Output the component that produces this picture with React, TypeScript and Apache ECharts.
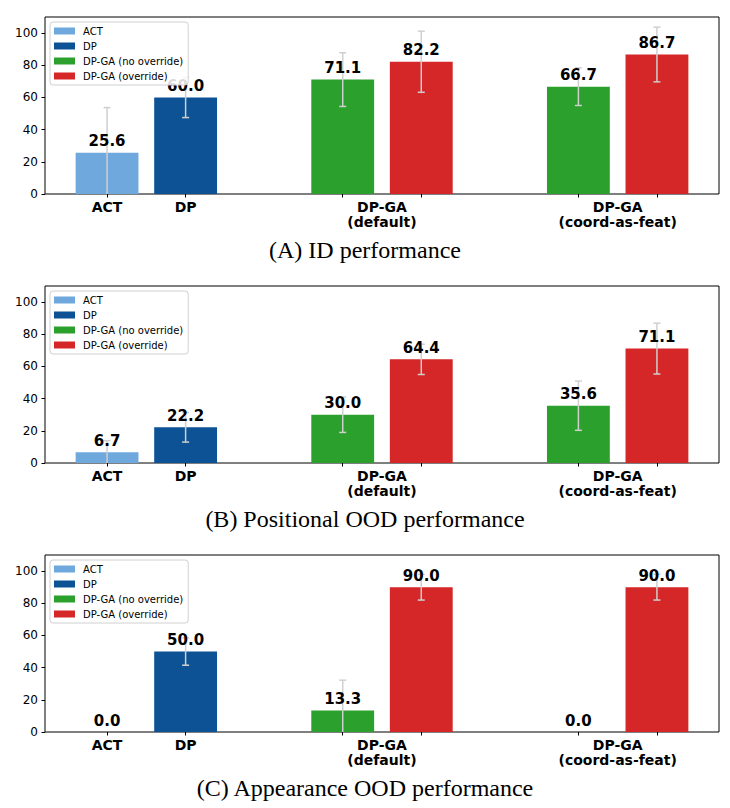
import React, { useEffect, useRef } from "react";
import * as echarts from "echarts";

// Panel captions (drawn under each plot)
const panelCaptions = [
  "(A) ID performance",
  "(B) Positional OOD performance",
  "(C) Appearance OOD performance",
];

// Method names and colours (legend order)
const methodNames = ["ACT", "DP", "DP-GA (no override)", "DP-GA (override)"];
const methodColors = ["#6fa8dc", "#0d5295", "#2ca02c", "#d62728"];

// Tick labels along the x axis
const groupLabels = ["ACT", "DP", "DP-GA\n(default)", "DP-GA\n(coord-as-feat)"];
const yTickValues = [0, 20, 40, 60, 80, 100];

// Success rates per panel (A, B, C)
const actValues = [25.6, 6.7, 0.0];
const dpValues = [60.0, 22.2, 50.0];
// DP-GA: [default, coord-as-feat] per panel
const noOverrideValues = [
  [71.1, 66.7],
  [30.0, 35.6],
  [13.3, 0.0],
];
const overrideValues = [
  [82.2, 86.7],
  [64.4, 71.1],
  [90.0, 90.0],
];

// Error-bar half widths, same layout as the values
const actErrors = [28.1, 7.2, 0];
const dpErrors = [12.5, 9.2, 8.5];
const noOverrideErrors = [
  [16.7, 11.7],
  [11.0, 15.3],
  [18.9, 0],
];
const overrideErrors = [
  [19.0, 17.0],
  [9.4, 15.8],
  [8.0, 8.0],
];

// Slot positions on the x axis: ACT, DP, then two DP-GA pairs with a gap
const SLOT_ACT = 0;
const SLOT_DP = 1;
const PAIR_STARTS = [3, 6];
const BAR_WIDTH = 0.8;
const X_MIN = -0.79;
const X_MAX = 7.79;

const GRID_LEFT = 45;
const GRID_RIGHT = 11;
const GRID_HEIGHT = 177;
const PANEL_TOPS = [17, 286, 555];

const FONT = "DejaVu Sans";

function renderBar(color: string) {
  return (params: any, api: any) => {
    const x = api.value(0);
    const v = api.value(1);
    const e = api.value(2);
    const base = api.coord([x, 0]);
    const top = api.coord([x, v]);
    const w = api.size([BAR_WIDTH, 0])[0];
    const children: any[] = [];
    if (v > 0) {
      children.push({
        type: "rect",
        shape: { x: base[0] - w / 2, y: top[1], width: w, height: base[1] - top[1] },
        style: { fill: color },
      });
    }
    if (e > 0) {
      const hi = api.coord([x, v + e]);
      const loVal = v - e;
      const lo = api.coord([x, Math.max(loVal, 0)]);
      const errStyle = { stroke: "#cfcfcf", lineWidth: 1.5 };
      children.push({
        type: "line",
        shape: { x1: top[0], y1: hi[1], x2: top[0], y2: lo[1] },
        style: errStyle,
      });
      children.push({
        type: "line",
        shape: { x1: top[0] - 3.5, y1: hi[1], x2: top[0] + 3.5, y2: hi[1] },
        style: errStyle,
      });
      if (loVal > 0) {
        children.push({
          type: "line",
          shape: { x1: top[0] - 3.5, y1: lo[1], x2: top[0] + 3.5, y2: lo[1] },
          style: errStyle,
        });
      }
    }
    children.push({
      type: "text",
      style: {
        text: v.toFixed(1),
        x: top[0],
        y: top[1] - 4,
        align: "center",
        verticalAlign: "bottom",
        fontFamily: FONT,
        fontWeight: "bold",
        fontSize: 15,
        fill: "#000",
      },
    });
    return { type: "group", children };
  };
}

function buildOption() {
  const grids: any[] = [];
  const xAxes: any[] = [];
  const yAxes: any[] = [];
  const series: any[] = [];
  const legends: any[] = [];
  const graphics: any[] = [];

  const tickSlots = [SLOT_ACT, SLOT_DP, ...PAIR_STARTS.flatMap((s) => [s, s + 1])];
  const labelSlots = [SLOT_ACT, SLOT_DP, ...PAIR_STARTS.map((s) => s + 0.5)];

  PANEL_TOPS.forEach((top, p) => {
    grids.push({
      left: GRID_LEFT,
      right: GRID_RIGHT,
      top,
      height: GRID_HEIGHT,
      show: true,
      borderColor: "#000",
      borderWidth: 1,
      backgroundColor: "transparent",
    });
    xAxes.push({
      type: "value",
      gridIndex: p,
      min: X_MIN,
      max: X_MAX,
      axisLine: { show: false, onZero: false },
      splitLine: { show: false },
      axisTick: {
        show: true,
        length: 3.5,
        lineStyle: { color: "#000", width: 1 },
        customValues: tickSlots,
      },
      axisLabel: {
        customValues: labelSlots,
        formatter: (val: number) => {
          const i = labelSlots.findIndex((s) => Math.abs(s - val) < 1e-6);
          return i >= 0 ? groupLabels[i] : "";
        },
        fontFamily: FONT,
        fontWeight: "bold",
        fontSize: 14,
        lineHeight: 15,
        color: "#000",
        margin: 5,
      },
    });
    yAxes.push({
      type: "value",
      gridIndex: p,
      min: 0,
      max: 110,
      interval: 20,
      axisLine: { show: false, onZero: false },
      splitLine: { show: false },
      axisTick: {
        show: true,
        length: 3.5,
        lineStyle: { color: "#000", width: 1 },
        customValues: yTickValues,
      },
      axisLabel: {
        customValues: yTickValues,
        fontFamily: FONT,
        fontSize: 12,
        color: "#000",
        margin: 7,
      },
    });

    const panelData = [
      [[SLOT_ACT, actValues[p], actErrors[p]]],
      [[SLOT_DP, dpValues[p], dpErrors[p]]],
      PAIR_STARTS.map((s, g) => [s, noOverrideValues[p][g], noOverrideErrors[p][g]]),
      PAIR_STARTS.map((s, g) => [s + 1, overrideValues[p][g], overrideErrors[p][g]]),
    ];
    methodNames.forEach((name, m) => {
      series.push({
        type: "custom",
        name,
        xAxisIndex: p,
        yAxisIndex: p,
        itemStyle: { color: methodColors[m] },
        renderItem: renderBar(methodColors[m]),
        data: panelData[m],
        z: 2,
      });
    });

    legends.push({
      orient: "vertical",
      left: GRID_LEFT + 5,
      top: top + 5,
      padding: [4, 5, 4, 4],
      itemGap: 5,
      itemWidth: 21,
      itemHeight: 7,
      selectedMode: false,
      backgroundColor: "rgba(255,255,255,0.85)",
      borderColor: "#d0d0d0",
      borderWidth: 1,
      borderRadius: 3,
      z: 10,
      textStyle: {
        fontFamily: FONT,
        fontSize: 10,
        lineHeight: 10,
        color: "#000",
        padding: [0, 0, 0, 3],
      },
      data: methodNames.map((n) => ({ name: n, icon: "rect" })),
    });

    graphics.push({
      type: "text",
      x: 365,
      y: top + 233,
      style: {
        text: panelCaptions[p],
        fontFamily: "Liberation Serif",
        fontSize: 24,
        fill: "#000",
        align: "center",
        verticalAlign: "middle",
      },
    });
  });

  return {
    animation: false,
    backgroundColor: "#fff",
    textStyle: { fontFamily: FONT },
    grid: grids,
    xAxis: xAxes,
    yAxis: yAxes,
    legend: legends,
    series,
    graphic: graphics,
  };
}

export default function App() {
  const ref = useRef<HTMLDivElement>(null);
  useEffect(() => {
    if (!ref.current) return;
    const chart = echarts.init(ref.current, undefined, { renderer: "svg" });
    chart.setOption(buildOption() as any);
    return () => chart.dispose();
  }, []);
  return (
    <div
      ref={ref}
      style={{ position: "absolute", left: 0, top: 0, width: 730, height: 808, background: "#fff" }}
    />
  );
}
